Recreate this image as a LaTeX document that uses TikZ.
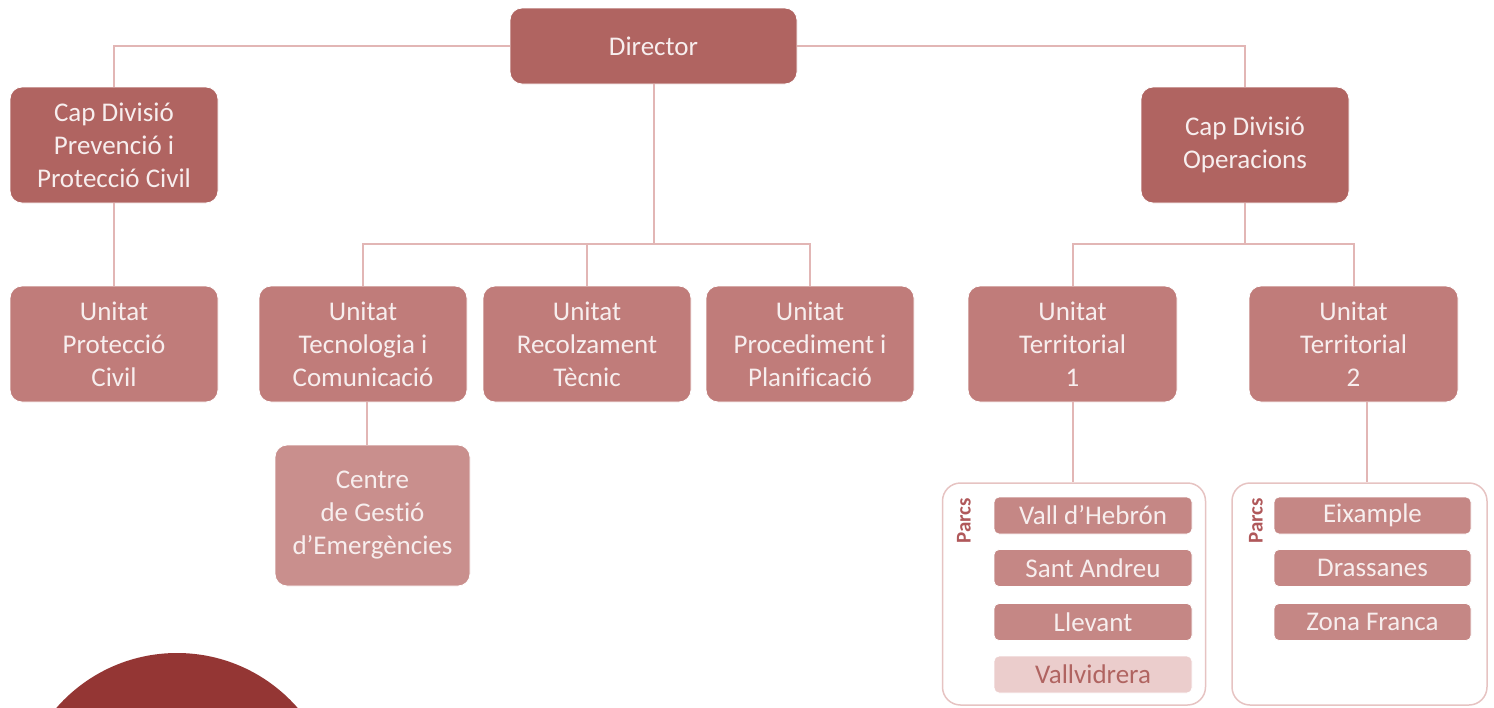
\documentclass[tikz,border=0pt]{standalone}
\usepackage{fontspec}
\setmainfont{Carlito}[Ligatures={NoCommon}]
\usetikzlibrary{calc}
\definecolor{darkbox}{HTML}{B06461}
\definecolor{unitbox}{HTML}{C07C7A}
\definecolor{centrebox}{HTML}{C98F8D}
\definecolor{parcbox}{HTML}{C58785}
\definecolor{paleparc}{HTML}{EBCDCC}
\definecolor{wire}{HTML}{E2B6B5}
\definecolor{frame}{HTML}{E6C3C2}
\definecolor{labeltxt}{HTML}{B0585A}
\definecolor{boxtxt}{HTML}{F7EEEE}
\definecolor{disc}{HTML}{943634}
\tikzset{
  orgbox/.style={rounded corners=12pt, draw=white, line width=0.8pt,
    text=boxtxt, align=center, inner sep=0pt,
    font=\fontsize{27}{33}\selectfont},
  topbox/.style={orgbox, fill=darkbox, minimum width=208pt, minimum height=116pt},
  unitnode/.style={orgbox, fill=unitbox, minimum width=208pt, minimum height=116pt},
  parcnode/.style={orgbox, rounded corners=5pt, fill=parcbox, minimum width=198pt, minimum height=37pt},
  group/.style={draw=frame, line width=1.5pt, rounded corners=18pt},
  wireline/.style={draw=wire, line width=2pt},
  parcslabel/.style={rotate=90, text=labeltxt, font=\fontsize{21}{24}\selectfont\bfseries, inner sep=0pt}
}
\begin{document}
\begin{tikzpicture}[x=1pt, y=-1pt]
  \useasboundingbox (0,0) rectangle (1494,707);
  \clip (0,0) rectangle (1494,707);

  % decorative disc in the lower left corner
  \fill[disc] (177,813) circle (160pt);

  % boxes of the hierarchy
  \node[topbox, minimum width=287pt, minimum height=76pt] (dir) at (653.5,46) {Director};
  \node[topbox] (capP) at (114,145) {Cap Divisió\\Prevenció i\\Protecció Civil};
  \node[topbox] (capO) at (1245,145) {Cap Divisió\\Operacions};

  \node[unitnode] (uPC) at (114,344) {Unitat\\Protecció\\Civil};
  \node[unitnode] (uTC) at (363,344) {Unitat\\Tecnologia i\\Comunicació};
  \node[unitnode] (uRT) at (587,344) {Unitat\\Recolzament\\Tècnic};
  \node[unitnode] (uPP) at (810,344) {Unitat\\Procediment i\\Planificació};
  \node[unitnode, minimum width=209pt] (uT1) at (1072.5,344) {Unitat\\Territorial\\1};
  \node[unitnode, minimum width=209pt] (uT2) at (1353.5,344) {Unitat\\Territorial\\2};

  \node[orgbox, fill=centrebox, minimum width=195pt, minimum height=141pt] (cge) at (372.5,515.5) {Centre\\de Gestió\\d’Emergències};

  % groups of fire stations
  \node[group, minimum width=263pt, minimum height=222pt] (g1) at (1074,594) {};
  \node[group, minimum width=255pt, minimum height=222pt] (g2) at (1359.5,594) {};
  \node[parcslabel] (lab1) at (964,521) {Parcs};
  \node[parcslabel] (lab2) at (1256,521) {Parcs};

  \node[parcnode] (p11) at (1093,515.5) {Vall d’Hebrón};
  \node[parcnode] (p12) at (1093,568) {Sant Andreu};
  \node[parcnode] (p13) at (1093,622) {Llevant};
  \node[parcnode, fill=paleparc, text=darkbox] (p14) at (1093,674.5) {Vallvidrera};

  \node[parcnode, minimum width=197pt] (p21) at (1372.5,515.5) {Eixample};
  \node[parcnode, minimum width=197pt] (p22) at (1372.5,568) {Drassanes};
  \node[parcnode, minimum width=197pt] (p23) at (1372.5,622) {Zona Franca};

  % connector junctions
  \coordinate (busA) at (653.5,244);
  \coordinate (busB) at (1245,244);
  \coordinate (tcDrop) at (367,0);
  \coordinate (t2Drop) at (1367,0);

  % connectors
  \path[wireline] (dir.west) -| (capP.north);
  \path[wireline] (dir.east) -| (capO.north);
  \path[wireline] (capP.south) -- (uPC.north);
  \path[wireline] (dir.south) -- (busA);
  \path[wireline] (busA) -| (uTC.north);
  \path[wireline] (busA) -| (uRT.north);
  \path[wireline] (busA) -| (uPP.north);
  \path[wireline] (capO.south) -- (busB);
  \path[wireline] (busB) -| (uT1.north);
  \path[wireline] (busB) -| (uT2.north);
  \path[wireline] (tcDrop |- uTC.south) -- (tcDrop |- cge.north);
  \path[wireline] (uT1.south) -- (uT1.south |- g1.north);
  \path[wireline] (t2Drop |- uT2.south) -- (t2Drop |- g2.north);
\end{tikzpicture}
\end{document}
